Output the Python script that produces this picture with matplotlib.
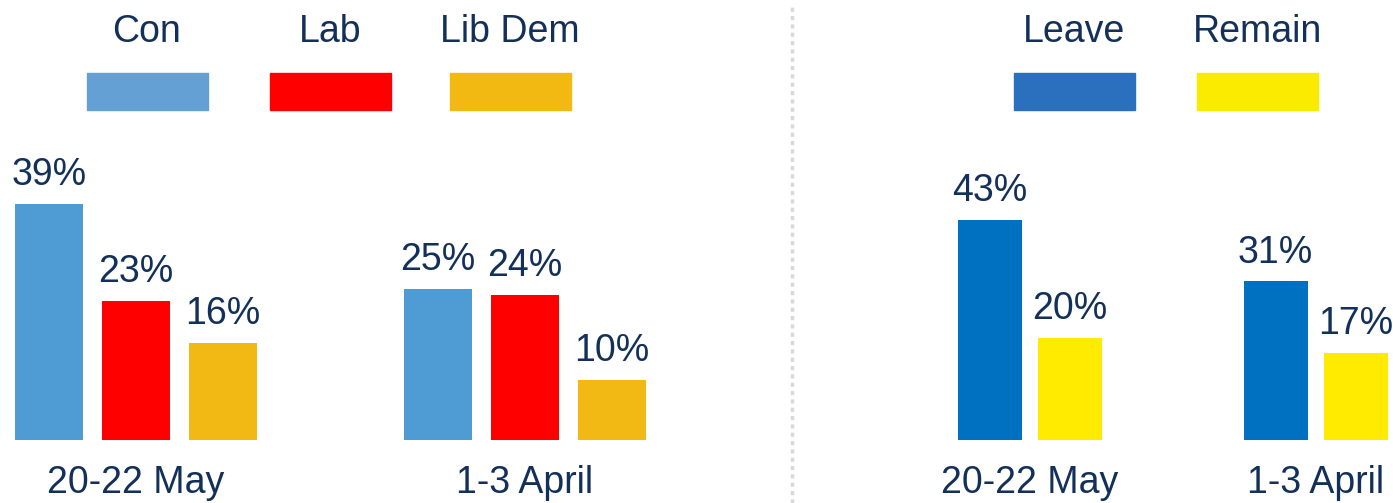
import matplotlib.pyplot as plt
from matplotlib.patches import Rectangle
from matplotlib.lines import Line2D

plt.rcParams['font.family'] = ['Liberation Sans', 'DejaVu Sans']

# data
periods = ["20-22 May", "1-3 April"]
parties = ["Con", "Lab", "Lib Dem"]
party_vals = {"Con": [39, 25], "Lab": [23, 24], "Lib Dem": [16, 10]}
party_cols = ["#4F9CD5", "#FF0000", "#F2B814"]
party_legend_cols = ["#64A0D4", "#FF0000", "#F2B913"]

sides = ["Leave", "Remain"]
side_vals = {"Leave": [43, 31], "Remain": [20, 17]}
side_cols = ["#0070C0", "#FFEB00"]
side_legend_cols = ["#2A70BF", "#FAEB00"]

navy = "#13305A"
W, H = 1393, 503
fs = 27

fig = plt.figure(figsize=(W / 100, H / 100), dpi=100)

base = 63 / H
axL = fig.add_axes([0, base, 792 / W, 440 / H])
axR = fig.add_axes([792 / W, base, 601 / W, 440 / H])


def draw(ax, names, vals, cols, pitch, width, xlim, ylim):
    n = len(names)
    for i, (name, c) in enumerate(zip(names, cols)):
        xs = [g + (i - (n - 1) / 2) * pitch for g in range(len(periods))]
        bars = ax.bar(xs, vals[name], width=width, color=c)
        for b, v in zip(bars, vals[name]):
            ax.annotate(f"{v}%", (b.get_x() + b.get_width() / 2, v),
                        xytext=(0, 13.5), textcoords="offset points",
                        ha="center", va="baseline", fontsize=fs, color=navy)
    ax.set_xlim(*xlim)
    ax.set_ylim(*ylim)
    ax.set_xticks(range(len(periods)))
    ax.set_xticklabels(periods, fontsize=fs, color=navy)
    ax.tick_params(axis="x", length=0, pad=18)
    ax.set_yticks([])
    for s in ax.spines.values():
        s.set_visible(False)


draw(axL, parties, party_vals, party_cols, 87 / 389, 68 / 389,
     (-136 / 389, (792 - 136) / 389), (0, 440 / 6.05))
draw(axR, sides, side_vals, side_cols, 80 / 286, 64 / 286,
     (-(1029.5 - 792) / 286, (1393 - 1029.5) / 286), (0, 440 / 5.12))

# legends: label above a colour block
legend_left = [87, 270, 450, 1014, 1197]
names = parties + sides
lcols = party_legend_cols + side_legend_cols
for x0, name, c in zip(legend_left, names, lcols):
    fig.patches.append(Rectangle((x0 / W, 1 - 110 / H), 121 / W, 37 / H,
                                 transform=fig.transFigure, color=c))
    fig.text((x0 + 60) / W, 1 - 42 / H, name, ha="center", va="baseline",
             fontsize=fs, color=navy)

# dotted divider
fig.lines.append(Line2D([792 / W, 792 / W], [0, 1 - 6 / H], transform=fig.transFigure,
                        color="#D9D9D9", lw=2.5, linestyle=(0, (1.2, 1.2))))

fig.savefig("out.png", dpi=100)
